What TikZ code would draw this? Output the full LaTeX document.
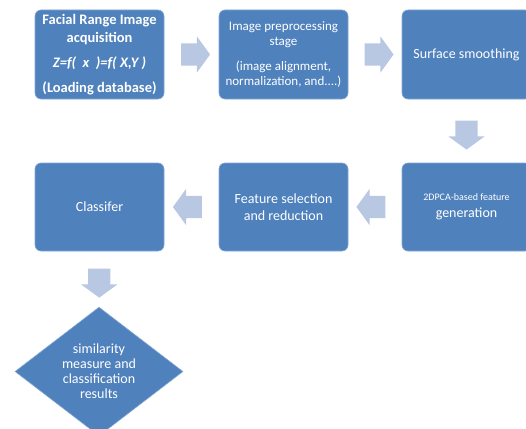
\documentclass[tikz,border=0pt]{standalone}
\usepackage{fontspec}
\setmainfont{Carlito}
\usetikzlibrary{shapes.geometric,shapes.arrows,calc,positioning}
\definecolor{boxblue}{RGB}{79,129,189}
\definecolor{arrowblue}{RGB}{184,199,226}

\begin{document}
\begin{tikzpicture}[x=1pt,y=-1pt,
  stage/.style={draw=boxblue!70!white,line width=0.6pt,fill=boxblue,rounded corners=6pt,
    minimum width=129pt,minimum height=89pt,inner sep=2pt,text=white,align=center,
    font=\fontsize{14}{17}\selectfont},
  blockarrow/.style={single arrow,fill=arrowblue,draw=none,inner xsep=0pt,inner ysep=11pt,
    minimum height=29pt,single arrow head extend=7pt,single arrow tip angle=108},
  decision/.style={diamond,draw=boxblue!70!white,line width=0.6pt,fill=boxblue,
    minimum width=168pt,minimum height=113pt,inner sep=0pt,text=white,align=center,
    font=\fontsize{14}{15}\selectfont}]
  \clip (0,0) rectangle (526,428);
  % first row
  \node[stage,font=\bfseries\fontsize{14.5}{18}\selectfont] (acq) at (99.5,54.5)
    {Facial Range Image\\acquisition\\[7pt]{\itshape Z=f(~~x~~)=f(~X,Y~)}\\[7pt](Loading database)};
  \node[stage,font=\fontsize{13}{15}\selectfont] (pre) at (283.5,54.5)
    {Image preprocessing\\stage\\[10pt](image alignment,\\normalization, and....)};
  \node[stage] (smooth) at (466.5,54.5) {Surface smoothing};
  % second row
  \node[stage,minimum height=88pt] (gen) at (466.5,207)
    {{\fontsize{10}{12}\selectfont 2DPCA-based feature}\\generation};
  \node[stage,minimum height=88pt] (sel) at (283.5,207) {Feature selection\\and reduction};
  \node[stage,minimum height=88pt] (cls) at (99.5,207) {Classifer};
  % result
  \node[decision] (res) at (99,371.5) {similarity\\measure and\\classification\\results};
  % block arrows
  \node[blockarrow] (a1) at ($(acq.east)!0.5!(pre.west)$) {};
  \node[blockarrow] (a2) at ($(pre.east)!0.5!(smooth.west)$) {};
  \node[blockarrow,rotate=-90] (a3) at ($(smooth.south)!0.5!(gen.north)$) {};
  \node[blockarrow,rotate=180] (a4) at ($(gen.west)!0.5!(sel.east)$) {};
  \node[blockarrow,rotate=180] (a5) at ($(sel.west)!0.5!(cls.east)$) {};
  \node[blockarrow,rotate=-90] (a6) at ($(cls.south)!0.5!(res.north)$) {};
\end{tikzpicture}
\end{document}
